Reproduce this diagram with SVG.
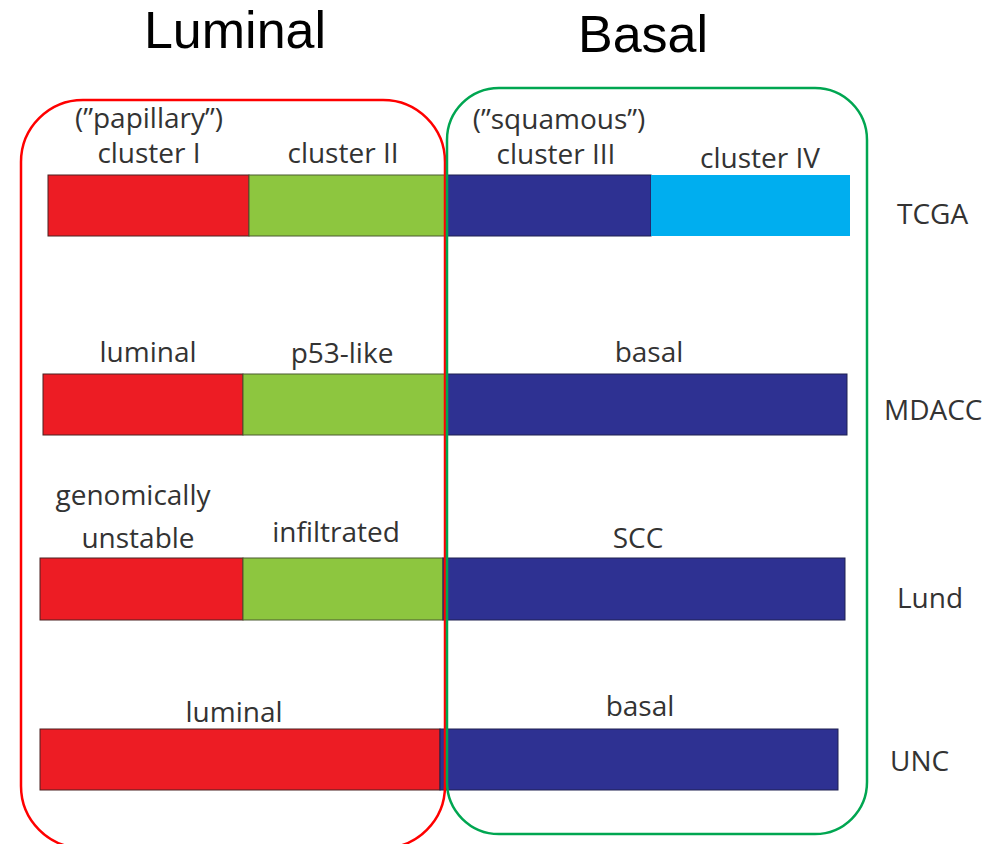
<svg xmlns="http://www.w3.org/2000/svg" width="992" height="844" viewBox="0 0 992 844">
<style>
.t{font-family:"Open Sans","Noto Sans",sans-serif;font-size:28px;fill:#333;text-anchor:middle}
.r{font-family:"Open Sans","Noto Sans",sans-serif;font-size:28px;fill:#333;text-anchor:start}
.h{font-family:"Liberation Sans",Arial,sans-serif;font-size:52px;fill:#000;text-anchor:middle}
.red{fill:#ED1C24;stroke:#4a2020;stroke-width:1}
.grn{fill:#8DC63F;stroke:#4a5a30;stroke-width:1}
.blu{fill:#2E3192;stroke:#1e2050;stroke-width:1}
.lbl{fill:#00AEEF}
.box{fill:none;stroke-width:2.5}
</style>
<rect width="992" height="844" fill="#fff"/>
<g id="titles">
<text class="h" x="235" y="48">Luminal</text>
<text class="h" x="643" y="52">Basal</text>
</g>
<g id="tcga">
<rect class="red" x="48" y="175" width="201" height="61"/>
<rect class="grn" x="249" y="175" width="198" height="61" stroke="none"/>
<rect class="blu" x="447" y="175" width="204" height="61" stroke="none"/>
<rect class="lbl" x="651" y="175" width="199" height="61"/>
<text class="t" x="149" y="128">(”papillary”)</text>
<text class="t" x="149" y="163">cluster I</text>
<text class="t" x="343" y="163">cluster II</text>
<text class="t" x="559" y="129">(”squamous”)</text>
<text class="t" x="556" y="164">cluster III</text>
<text class="t" x="760" y="168">cluster IV</text>
<text class="r" x="897" y="224">TCGA</text>
</g>
<g id="mdacc">
<rect class="red" x="43" y="374" width="200" height="61"/>
<rect class="grn" x="243" y="374" width="202" height="61"/>
<rect class="blu" x="445" y="374" width="402" height="61"/>
<text class="t" x="148" y="362">luminal</text>
<text class="t" x="342" y="363">p53-like</text>
<text class="t" x="649" y="362">basal</text>
<text class="r" x="884" y="420">MDACC</text>
</g>
<g id="lund">
<rect class="red" x="40" y="558" width="203" height="62"/>
<rect class="grn" x="243" y="558" width="200" height="62"/>
<rect class="blu" x="443" y="558" width="402" height="62"/>
<text class="t" x="133" y="505">genomically</text>
<text class="t" x="138" y="548">unstable</text>
<text class="t" x="336" y="542">infiltrated</text>
<text class="t" x="638" y="548">SCC</text>
<text class="r" x="897" y="608">Lund</text>
</g>
<g id="unc">
<rect class="red" x="40" y="729" width="400" height="61" stroke="none"/>
<rect class="blu" x="440" y="729" width="398" height="61"/>
<text class="t" x="234" y="722">luminal</text>
<text class="t" x="640" y="716">basal</text>
<text class="r" x="890" y="771">UNC</text>
</g>
<g id="groups">
<rect id="luminal-box" class="box" x="21" y="100" width="424" height="748" rx="62" ry="62" stroke="#FF0000"/>
<rect id="basal-box" class="box" x="447" y="88" width="420" height="746" rx="52" ry="52" stroke="#00A651"/>
</g>
</svg>
